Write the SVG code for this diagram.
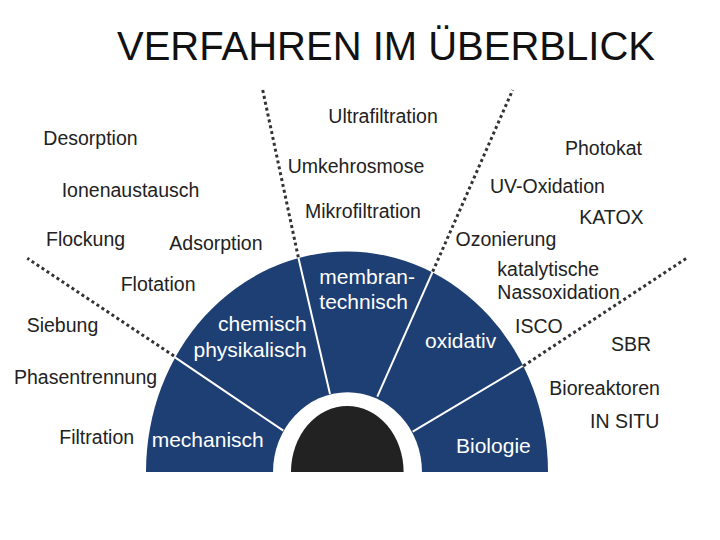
<svg xmlns="http://www.w3.org/2000/svg" width="720" height="540" viewBox="0 0 720 540">
<style>
.t{font-family:"Liberation Sans",Arial,sans-serif;font-size:19.5px;fill:#222}
.w{font-family:"Liberation Sans",Arial,sans-serif;font-size:21px;fill:#fff}
.div{stroke:#fff;stroke-width:2;fill:none}
.dot{stroke:#333;stroke-width:3;stroke-dasharray:3 3;fill:none}
</style>
<rect width="720" height="540" fill="#fff"/>
<text id="title" x="117" y="60" font-family="'Liberation Sans',Arial,sans-serif" font-size="40" fill="#111" textLength="538" lengthAdjust="spacingAndGlyphs">VERFAHREN IM ÜBERBLICK</text>
<g id="base">
<path d="M146,472 A201,220.5 0 0 1 548,472 Z" fill="#1e3f73"/>
</g>
<g id="connectors">
<line class="div" x1="175" y1="357.3" x2="283.3" y2="430.7"/>
<line class="div" x1="298.3" y1="257.3" x2="330" y2="394"/>
<line class="div" x1="432.7" y1="271.7" x2="377.3" y2="396.7"/>
<line class="div" x1="522.7" y1="366" x2="412.7" y2="431.7"/>
<line class="dot" x1="174" y1="356" x2="27.3" y2="258.3"/>
<line class="dot" x1="298.3" y1="257.3" x2="262.7" y2="90"/>
<line class="dot" x1="432.7" y1="271.7" x2="512.7" y2="90"/>
<line class="dot" x1="523.3" y1="366" x2="687.3" y2="257.7"/>
</g>
<g id="core">
<path d="M273,472 A74.5,79.7 0 0 1 422,472 Z" fill="#fff"/>
<path d="M291,472 A56.3,66 0 0 1 403.6,472 Z" fill="#222"/>
</g>
<g id="mechanisch">
<text class="w" x="151.7" y="447.3">mechanisch</text>
<text class="t" x="26.7" y="331.7">Siebung</text>
<text class="t" x="14" y="384">Phasentrennung</text>
<text class="t" x="59.3" y="444">Filtration</text>
</g>
<g id="chemisch-physikalisch">
<text class="w" x="306.7" y="330.7" text-anchor="end">chemisch</text>
<text class="w" x="306.7" y="356.7" text-anchor="end">physikalisch</text>
<text class="t" x="43.3" y="145">Desorption</text>
<text class="t" x="61.7" y="196.7">Ionenaustausch</text>
<text class="t" x="46" y="245.7">Flockung</text>
<text class="t" x="169.3" y="250">Adsorption</text>
<text class="t" x="120.7" y="290.7">Flotation</text>
</g>
<g id="membrantechnisch">
<text class="w" x="319.3" y="284">membran-</text>
<text class="w" x="319.3" y="309">technisch</text>
<text class="t" x="328.3" y="122.7">Ultrafiltration</text>
<text class="t" x="287.7" y="173.3">Umkehrosmose</text>
<text class="t" x="305" y="217.7">Mikrofiltration</text>
</g>
<g id="oxidativ">
<text class="w" x="425" y="348.3">oxidativ</text>
<text class="t" x="565" y="155">Photokat</text>
<text class="t" x="490" y="193.3">UV-Oxidation</text>
<text class="t" x="579.3" y="224">KATOX</text>
<text class="t" x="455.5" y="246">Ozonierung</text>
<text class="t" x="497.3" y="276">katalytische</text>
<text class="t" x="497.3" y="299">Nassoxidation</text>
<text class="t" x="515" y="333.3">ISCO</text>
</g>
<g id="biologie">
<text class="w" x="456" y="453.3">Biologie</text>
<text class="t" x="611" y="351">SBR</text>
<text class="t" x="549.3" y="395">Bioreaktoren</text>
<text class="t" x="590" y="428.3">IN SITU</text>
</g>
</svg>
